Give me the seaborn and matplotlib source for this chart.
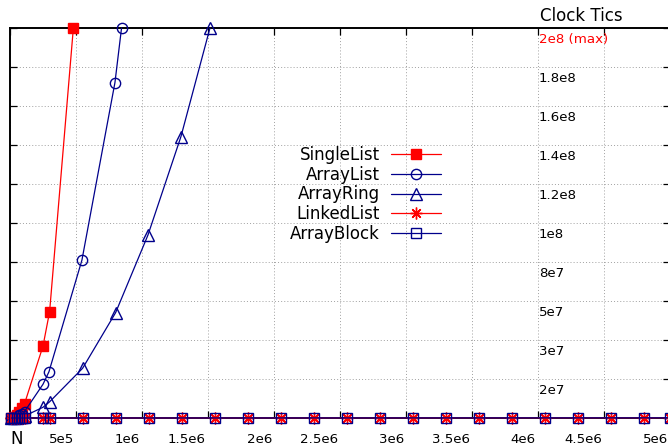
import matplotlib
matplotlib.use("Agg")
import matplotlib.pyplot as plt
import seaborn as sns
import pandas as pd

# ---------------- data ----------------
series_names = ["SingleList", "ArrayList", "ArrayRing", "LinkedList", "ArrayBlock"]

single_n = [10000, 30000, 50000, 70000, 90000, 110000, 250000, 300000, 480000]
single_clk = [60000, 540000, 1500000, 2900000, 4900000, 7300000,
              36900000, 54500000, 200000000]

arraylist_n = [10000, 30000, 50000, 70000, 90000, 110000, 250000, 295000,
               545000, 795000, 845000]
arraylist_clk = [30000, 250000, 700000, 1300000, 2200000, 3300000, 17300000,
                 23700000, 81000000, 172000000, 200000000]

arrayring_n = [10000, 30000, 50000, 70000, 90000, 110000, 250000, 300000,
               550000, 800000, 1045000, 1295000, 1515000]
arrayring_clk = [10000, 80000, 210000, 420000, 700000, 1000000, 5500000,
                 8300000, 25500000, 54000000, 93800000, 144300000, 200000000]

bottom_n = [10000, 30000, 50000, 70000, 90000, 110000, 250000, 300000, 550000,
            800000, 1050000, 1300000, 1550000, 1800000, 2050000, 2300000,
            2550000, 2800000, 3050000, 3300000, 3550000, 3800000, 4050000,
            4300000, 4550000, 4800000, 5000000]
linked_clk = [200, 600, 1000, 1400, 1800, 2200, 5000, 6000, 11000, 16000,
              21000, 26000, 31000, 36000, 41000, 46000, 51000, 56000, 61000,
              66000, 71000, 76000, 81000, 86000, 91000, 96000, 100000]
block_clk = [150, 450, 800, 1100, 1400, 1700, 4000, 4800, 9000, 13000,
             17000, 21000, 25000, 29000, 33000, 37000, 41000, 45000, 49000,
             53000, 57000, 61000, 65000, 69000, 73000, 77000, 80000]

x_ticks = [0, 500000, 1000000, 1500000, 2000000, 2500000, 3000000, 3500000,
           4000000, 4500000, 5000000]
x_tick_labels = ["", "5e5", "1e6", "1.5e6", "2e6", "2.5e6", "3e6", "3.5e6",
                 "4e6", "4.5e6", "5e6"]
y_ticks = [0, 20000000, 40000000, 60000000, 80000000, 100000000, 120000000,
           140000000, 160000000, 180000000, 200000000]
y_tick_labels = ["", "2e7", "3e7", "5e7", "8e7", "1e8", "1.2e8", "1.4e8",
                 "1.6e8", "1.8e8", "2e8 (max)"]

RED = "#ff0000"
NAVY = "#00008b"

# ---------------- figure ----------------
sns.set_style("white")
plt.rcParams["font.family"] = ["DejaVu Sans"]
plt.rcParams["text.color"] = "black"
plt.rcParams["axes.labelcolor"] = "black"
plt.rcParams["xtick.color"] = "black"
plt.rcParams["ytick.color"] = "black"

W, H = 668, 447
fig = plt.figure(figsize=(W / 100, H / 100), dpi=100)
L, R, T, B = 10, 670, 28, 418
ax = fig.add_axes([L / W, (H - B) / H, (R - L) / W, (B - T) / H])
ax.set_facecolor("white")

styles = {
    "SingleList": dict(color=RED, marker="s", markersize=7.6,
                       markerfacecolor=RED, markeredgecolor=RED, markeredgewidth=1),
    "ArrayList": dict(color=NAVY, marker="o", markersize=7.4,
                      markerfacecolor="none", markeredgecolor=NAVY, markeredgewidth=1),
    "ArrayRing": dict(color=NAVY, marker="^", markersize=8,
                      markerfacecolor="none", markeredgecolor=NAVY, markeredgewidth=1),
    "LinkedList": dict(color=RED, marker=(8, 2, 0), markersize=8.5,
                       markerfacecolor=RED, markeredgecolor=RED, markeredgewidth=1),
    "ArrayBlock": dict(color=NAVY, marker="s", markersize=7.8,
                       markerfacecolor="none", markeredgecolor=NAVY, markeredgewidth=1),
}
data = {
    "SingleList": (single_n, single_clk),
    "ArrayList": (arraylist_n, arraylist_clk),
    "ArrayRing": (arrayring_n, arrayring_clk),
    "LinkedList": (bottom_n, linked_clk),
    "ArrayBlock": (bottom_n, block_clk),
}

for name in series_names:
    n, c = data[name]
    df = pd.DataFrame({"N": n, "clk": c})
    sns.lineplot(data=df, x="N", y="clk", ax=ax, label=name, estimator=None,
                 linewidth=0.9, clip_on=False, zorder=3, **styles[name])

ax.set_xlim(0, 5000000)
ax.set_ylim(0, 200000000)
ax.set_xlabel("")
ax.set_ylabel("")

ax.set_xticks(x_ticks)
ax.set_xticklabels([])
ax.set_yticks(y_ticks)
ax.set_yticklabels([])
ax.tick_params(axis="both", direction="in", length=5, width=0.9,
               top=True, right=True, bottom=True, left=True, colors="black",
               labelbottom=False, labelleft=False)

ax.grid(True, color="#a0a0a0", linestyle=(0, (1, 2.2)), linewidth=0.7, zorder=0)
ax.set_axisbelow(True)
for s in ax.spines.values():
    s.set_color("black")
    s.set_linewidth(1.4)
    s.set_visible(True)

# x tick labels: right-aligned just left of each tick, below the axis
for xv, lab in zip(x_ticks, x_tick_labels):
    if not lab:
        continue
    ax.annotate(lab, xy=(xv, 0), xycoords=("data", "axes fraction"),
                xytext=(-2, -25.3), textcoords="offset pixels",
                ha="right", va="baseline", fontsize=9.6, color="black",
                annotation_clip=False)

# y tick labels placed inside the plot, just below each grid line
for yv, lab in zip(y_ticks, y_tick_labels):
    if not lab:
        continue
    ax.annotate(lab, xy=((539 - L) / (R - L), yv),
                xycoords=("axes fraction", "data"),
                xytext=(0, -14.7), textcoords="offset pixels",
                ha="left", va="baseline", fontsize=9.6,
                color=RED if "max" in lab else "black", zorder=5)

# axis titles
ax.text((540 - L) / (R - L), (B - 20.7) / (B - T), "Clock Tics",
        transform=ax.transAxes, ha="left", va="baseline", fontsize=12,
        color="black")
ax.text((10.5 - L) / (R - L), -(444 - B) / (B - T), "N",
        transform=ax.transAxes, ha="left", va="baseline", fontsize=12,
        color="black")

leg = ax.legend(loc="upper right", bbox_to_anchor=(441 / W, 1 - 146 / H),
                bbox_transform=fig.transFigure, frameon=False, markerfirst=False,
                fontsize=12, handlelength=3.0, handletextpad=0.66,
                labelspacing=0.1, borderpad=0, borderaxespad=0)
for t in leg.get_texts():
    t.set_color("black")

fig.savefig("out.png", dpi=100)
